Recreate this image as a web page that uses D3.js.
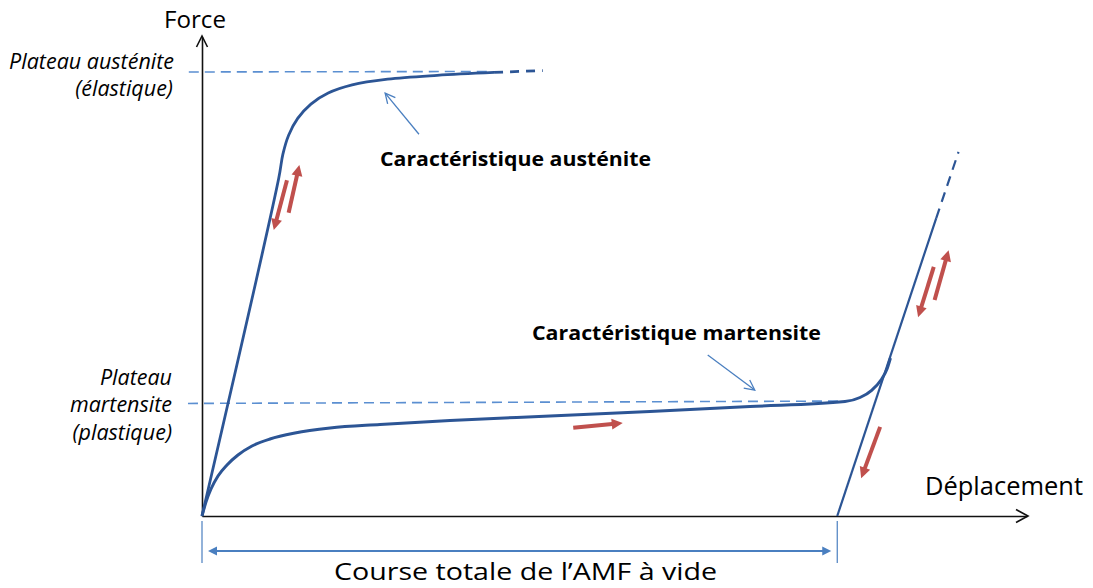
<!DOCTYPE html>
<html>
<head>
<meta charset="utf-8">
<script src="https://cdn.jsdelivr.net/npm/d3@7"></script>
<style>
  body { margin: 0; background: #fff; }
  svg { display: block; }
  text { font-family: "Open Sans", Lato, sans-serif; fill: #000; }
</style>
</head>
<body>
<svg id="chart" width="1093" height="588"></svg>
<script>
// Displacement (x) and force (y) in relative units, 0–100 along each axis.
const austeniteX = [0, 9.3, 9.8, 10.5, 11.6, 13.2, 15.3, 18.2, 22.5, 28.5, 35.4];
const austeniteY = [0, 70.5, 75.5, 79.5, 83.0, 86.0, 88.3, 90.0, 91.2, 92.0, 92.6];
const austeniteTailX = [35.4, 41.3];
const austeniteTailY = [92.6, 93.0];

const martensiteX = [0, 0.48, 1.09, 1.94, 3.03, 4.36, 6.06, 8.24, 11.27, 15.52, 21.58, 30.06, 42.18, 54.30, 66.42, 77.94, 79.76, 81.21, 82.30, 83.03, 83.45];
const martensiteY = [0, 2.92, 5.64, 8.35, 10.65, 12.73, 14.61, 16.08, 17.33, 18.37, 19.10, 19.94, 20.88, 21.82, 22.86, 23.90, 24.74, 26.30, 28.39, 30.69, 32.99];

const unloadX = [77.0, 89.0];
const unloadY = [0, 62.2];
const unloadTailX = [89.0, 91.7];
const unloadTailY = [62.2, 76.0];

const plateauAusteniteX = [-1.6, 35.1];
const plateauAusteniteY = [92.7, 92.8];
const plateauMartensiteX = [-1.7, 78.1];
const plateauMartensiteY = [23.5, 24.0];

// Direction arrows (tail → tip) along the loading / unloading paths
const redFromX = [10.5, 10.3, 88.8, 88.7, 82.2, 45.0];
const redFromY = [63.3, 70.1, 45.1, 52.0, 18.6, 18.4];
const redToX   = [11.8, 8.7, 90.5, 86.8, 79.9, 51.0];
const redToY   = [73.3, 59.7, 55.5, 41.5, 7.9, 19.4];

// Callouts pointing at each characteristic
const calloutLabels = ["Caractéristique austénite", "Caractéristique martensite"];
const calloutFromX = [26.3, 61.3];
const calloutFromY = [79.7, 33.6];
const calloutToX = [22.2, 67.0];
const calloutToY = [88.3, 26.3];

// Stroke of the actuator with no load: from origin to the unloading intercept
const strokeStart = 0;
const strokeEnd = 77.0;

const svg = d3.select("#chart");
const x = d3.scaleLinear().domain([0, 100]).range([202, 1027]);
const y = d3.scaleLinear().domain([0, 100]).range([516, 37]);

const dark = "#2c5595";
const light = "#5b8fd1";
const thin = "#4a7fc0";
const red = "#c0504d";

const zip = (xs, ys) => xs.map((v, i) => [v, ys[i]]);
const line = d3.line().x(d => x(d[0])).y(d => y(d[1]));
const smooth = d3.line().x(d => x(d[0])).y(d => y(d[1])).curve(d3.curveCatmullRom.alpha(0.5));
const mono = d3.line().x(d => x(d[0])).y(d => y(d[1])).curve(d3.curveMonotoneX);

function headPoints(tx, ty, fx, fy, len, half) {
  const dx = tx - fx, dy = ty - fy, L = Math.hypot(dx, dy);
  const ux = dx / L, uy = dy / L;
  const bx = tx - ux * len, by = ty - uy * len;
  return [[bx - uy * half, by + ux * half], [tx, ty], [bx + uy * half, by - ux * half]];
}

// Axes (no ticks) with open arrowheads
const gx = svg.append("g").attr("transform", `translate(0,${y(0)})`)
  .call(d3.axisBottom(x).tickValues([]).tickSizeOuter(0));
const gy = svg.append("g").attr("transform", `translate(${x(0)},0)`)
  .call(d3.axisLeft(y).tickValues([]).tickSizeOuter(0));
[gx, gy].forEach(g => g.select(".domain").attr("stroke", "#111").attr("stroke-width", 1.6));
svg.append("path")
  .attr("d", d3.line()(headPoints(x(100) + 1, y(0), x(90), y(0), 12, 6.5)))
  .attr("fill", "none").attr("stroke", "#111").attr("stroke-width", 1.6);
svg.append("path")
  .attr("d", d3.line()(headPoints(x(0), y(100) - 1, x(0), y(90), 11, 5.5)))
  .attr("fill", "none").attr("stroke", "#111").attr("stroke-width", 1.6);

// Plateau reference lines
svg.append("path").attr("d", line(zip(plateauAusteniteX, plateauAusteniteY)))
  .attr("fill", "none").attr("stroke", light).attr("stroke-width", 1.6).attr("stroke-dasharray", "10,6");
svg.append("path").attr("d", line(zip(plateauMartensiteX, plateauMartensiteY)))
  .attr("fill", "none").attr("stroke", light).attr("stroke-width", 1.6).attr("stroke-dasharray", "10,6");

// Austenite characteristic
svg.append("path").attr("d", smooth(zip(austeniteX, austeniteY)))
  .attr("fill", "none").attr("stroke", dark).attr("stroke-width", 2.8).attr("stroke-linejoin", "round");
svg.append("path").attr("d", line(zip(austeniteTailX, austeniteTailY)))
  .attr("fill", "none").attr("stroke", dark).attr("stroke-width", 2.8).attr("stroke-dasharray", "9,7");

// Martensite characteristic
svg.append("path").attr("d", mono(zip(martensiteX, martensiteY)))
  .attr("fill", "none").attr("stroke", dark).attr("stroke-width", 3).attr("stroke-linejoin", "round");

// Elastic unloading / reloading line
svg.append("path").attr("d", line(zip(unloadX, unloadY)))
  .attr("fill", "none").attr("stroke", dark).attr("stroke-width", 2.2);
svg.append("path").attr("d", line(zip(unloadTailX, unloadTailY)))
  .attr("fill", "none").attr("stroke", dark).attr("stroke-width", 2.2).attr("stroke-dasharray", "10,7");

// Red direction arrows
redFromX.forEach((fx, i) => {
  const x0 = x(fx), y0 = y(redFromY[i]), x1 = x(redToX[i]), y1 = y(redToY[i]);
  const L = Math.hypot(x1 - x0, y1 - y0);
  const s = (L - 8) / L;
  svg.append("line")
    .attr("x1", x0).attr("y1", y0)
    .attr("x2", x0 + (x1 - x0) * s).attr("y2", y0 + (y1 - y0) * s)
    .attr("stroke", red).attr("stroke-width", 4);
  svg.append("path").attr("d", d3.line()(headPoints(x1, y1, x0, y0, 11, 5.5)) + "Z")
    .attr("fill", red).attr("stroke", "none");
});

// Callout arrows and labels
calloutFromX.forEach((fx, i) => {
  const x0 = x(fx), y0 = y(calloutFromY[i]), x1 = x(calloutToX[i]), y1 = y(calloutToY[i]);
  svg.append("line").attr("x1", x0).attr("y1", y0).attr("x2", x1).attr("y2", y1)
    .attr("stroke", thin).attr("stroke-width", 1.3);
  svg.append("path").attr("d", d3.line()(headPoints(x1, y1, x0, y0, 10, 5)))
    .attr("fill", "none").attr("stroke", thin).attr("stroke-width", 1.3);
});
svg.append("text").attr("x", 380).attr("y", 166)
  .attr("font-size", 19.5).attr("font-weight", 700)
  .attr("textLength", 271).attr("lengthAdjust", "spacingAndGlyphs")
  .text(calloutLabels[0]);
svg.append("text").attr("x", 532).attr("y", 340)
  .attr("font-size", 19.5).attr("font-weight", 700)
  .attr("textLength", 289).attr("lengthAdjust", "spacingAndGlyphs")
  .text(calloutLabels[1]);

// Axis titles
svg.append("text").attr("x", 164).attr("y", 28)
  .attr("font-size", 24).attr("textLength", 62).attr("lengthAdjust", "spacingAndGlyphs")
  .text("Force");
svg.append("text").attr("x", 925).attr("y", 495)
  .attr("font-size", 25).attr("textLength", 158).attr("lengthAdjust", "spacingAndGlyphs")
  .text("Déplacement");

// Plateau labels
const italic = (tx, ty, s) => svg.append("text").attr("x", tx).attr("y", ty)
  .attr("text-anchor", "end").attr("font-size", 21.5).attr("font-style", "italic")
  .attr("fill", "#111").text(s);
italic(174, 69, "Plateau austénite");
italic(173, 96, "(élastique)");
italic(172, 385, "Plateau");
italic(172, 412, "martensite");
italic(172, 440, "(plastique)");

// Total stroke dimension
[strokeStart, strokeEnd].forEach(v => {
  svg.append("line").attr("x1", x(v)).attr("x2", x(v)).attr("y1", 521).attr("y2", 563)
    .attr("stroke", thin).attr("stroke-width", 1.2);
});
const dimY = 551;
const dx0 = x(strokeStart) + 6, dx1 = x(strokeEnd) - 6;
svg.append("line").attr("x1", dx0 + 6).attr("x2", dx1 - 6).attr("y1", dimY).attr("y2", dimY)
  .attr("stroke", thin).attr("stroke-width", 1.8);
svg.append("path").attr("d", d3.line()(headPoints(dx0, dimY, dx1, dimY, 9, 4.5)) + "Z").attr("fill", thin);
svg.append("path").attr("d", d3.line()(headPoints(dx1, dimY, dx0, dimY, 9, 4.5)) + "Z").attr("fill", thin);
svg.append("text").attr("x", 334).attr("y", 580)
  .attr("font-size", 24.5).attr("textLength", 383).attr("lengthAdjust", "spacingAndGlyphs")
  .text("Course totale de l’AMF à vide");
</script>
</body>
</html>
